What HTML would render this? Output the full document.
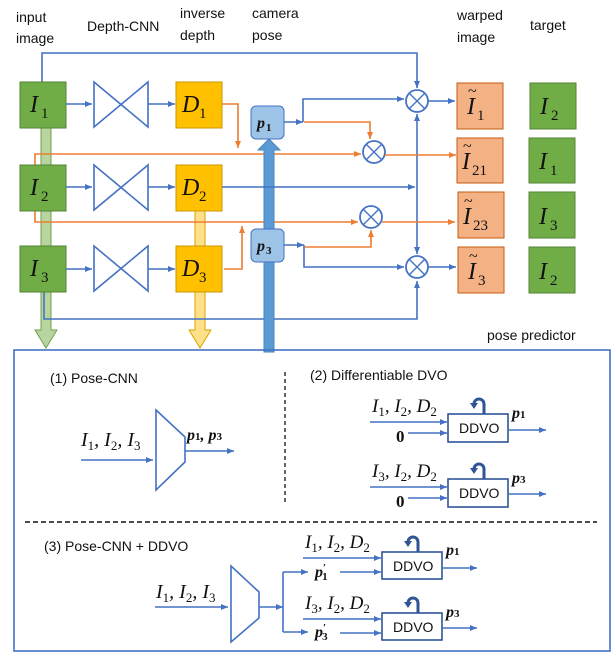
<!DOCTYPE html>
<html><head><meta charset="utf-8"><style>
html,body{margin:0;padding:0;background:#fff;width:616px;height:656px;overflow:hidden}
svg{display:block}
.t{font-family:"Liberation Sans",sans-serif;font-size:14px;fill:#111}
.m{font-family:"Liberation Serif",serif;font-style:italic;fill:#111}
.p{font-family:"Liberation Serif",serif;font-style:italic;font-weight:bold;fill:#111}
.n{font-style:normal !important}
.b{stroke:#4472c4;stroke-width:1.6;fill:none}
.o{stroke:#ed7d31;stroke-width:1.6;fill:none}
</style></head><body>
<svg width="616" height="656" viewBox="0 0 616 656" xmlns="http://www.w3.org/2000/svg">
<defs>
<marker id="ab" markerWidth="8" markerHeight="8" refX="7" refY="4" orient="auto" markerUnits="userSpaceOnUse"><path d="M0,1 L7,4 L0,7z" fill="#4472c4"/></marker>
<marker id="ao" markerWidth="8" markerHeight="8" refX="7" refY="4" orient="auto" markerUnits="userSpaceOnUse"><path d="M0,1 L7,4 L0,7z" fill="#ed7d31"/></marker>
</defs>
<text class="t" x="16" y="22">input</text><text class="t" x="16" y="43">image</text>
<text class="t" x="87" y="31">Depth-CNN</text>
<text class="t" x="180" y="18">inverse</text><text class="t" x="180" y="40">depth</text>
<text class="t" x="252" y="18">camera</text><text class="t" x="252" y="40">pose</text>
<text class="t" x="457" y="20">warped</text><text class="t" x="457" y="42">image</text>
<text class="t" x="530" y="30">target</text>

<path d="M41,128 V330 H35 L46,348 L57,330 H51 V128z" fill="#b8d5a0" stroke="#70a04a" stroke-width="1"/>
<path d="M195,211 V330 H189 L200,348 L211,330 H205 V211z" fill="#ffe08a" stroke="#d9a400" stroke-width="1"/>

<path class="b" d="M42,82 V53 H417 V88" marker-end="url(#ab)"/>
<path class="b" d="M44,292 V319 H417 V281" marker-end="url(#ab)"/>
<path class="b" d="M417,190 V114" marker-end="url(#ab)"/>
<path class="b" d="M417,190 V254" marker-end="url(#ab)"/>

<path class="o" d="M35,165 V154 H361" marker-end="url(#ao)"/>
<path class="o" d="M35,211 V222 H358" marker-end="url(#ao)"/>
<path class="o" d="M222,104 H238 V148" marker-end="url(#ao)"/>
<path class="o" d="M224,269 H242 V226" marker-end="url(#ao)"/>

<path d="M264,352 V150 H258 L269,139 L280,150 H274 V352z" fill="#5b9bd5" stroke="#4a84c0" stroke-width="1"/>

<g>
<rect x="20" y="82" width="46" height="46" fill="#70ad47" stroke="#548235"/>
<rect x="20" y="165" width="46" height="46" fill="#70ad47" stroke="#548235"/>
<rect x="20" y="246" width="46" height="46" fill="#70ad47" stroke="#548235"/>
<text class="m" x="30" y="112" font-size="24">I</text><text class="m n" x="41" y="118" font-size="15">1</text>
<text class="m" x="30" y="195" font-size="24">I</text><text class="m n" x="41" y="201" font-size="15">2</text>
<text class="m" x="30" y="276" font-size="24">I</text><text class="m n" x="41" y="282" font-size="15">3</text>
<path class="b" d="M66,104 H92" marker-end="url(#ab)"/>
<path class="b" d="M66,187 H92" marker-end="url(#ab)"/>
<path class="b" d="M66,269 H92" marker-end="url(#ab)"/>
<path class="b" d="M94,82 L148,127 V82 L94,127z"/>
<path class="b" d="M94,165 L148,210 V165 L94,210z"/>
<path class="b" d="M94,246 L148,291 V246 L94,291z"/>
<path class="b" d="M148,104 H175" marker-end="url(#ab)"/>
<path class="b" d="M148,187 H175" marker-end="url(#ab)"/>
<path class="b" d="M148,269 H175" marker-end="url(#ab)"/>
<rect x="176" y="82" width="46" height="46" fill="#ffc000" stroke="#c99700"/>
<rect x="176" y="165" width="46" height="46" fill="#ffc000" stroke="#c99700"/>
<rect x="176" y="246" width="46" height="46" fill="#ffc000" stroke="#c99700"/>
<text class="m" x="182" y="112" font-size="24">D</text><text class="m n" x="199" y="118" font-size="15">1</text>
<text class="m" x="182" y="195" font-size="24">D</text><text class="m n" x="199" y="201" font-size="15">2</text>
<text class="m" x="182" y="276" font-size="24">D</text><text class="m n" x="199" y="282" font-size="15">3</text>
</g>
<path class="b" d="M222,187 H415" marker-end="url(#ab)"/>

<rect x="251" y="106" width="33" height="33" rx="5" fill="#9dc3e6" stroke="#4472c4"/>
<rect x="251" y="229" width="33" height="33" rx="5" fill="#9dc3e6" stroke="#4472c4"/>
<text class="p" x="257" y="128" font-size="16">p</text><text class="p n" x="266" y="131" font-size="11">1</text>
<text class="p" x="257" y="251" font-size="16">p</text><text class="p n" x="266" y="254" font-size="11">3</text>
<path class="b" d="M284,122 H303" marker-end="url(#ab)"/>
<path class="b" d="M303,122 V99 H404" marker-end="url(#ab)"/>
<path class="o" d="M304,122 H370 V139" marker-end="url(#ao)"/>
<path class="b" d="M284,245 H304" marker-end="url(#ab)"/>
<path class="o" d="M305,247 H371 V230" marker-end="url(#ao)"/>
<path class="b" d="M304,245 V267 H404" marker-end="url(#ab)"/>

<g fill="#fff" stroke="#4472c4" stroke-width="1.8">
<circle cx="417" cy="101" r="11"/><circle cx="374" cy="152" r="11"/><circle cx="371" cy="217" r="11"/><circle cx="417" cy="267" r="11"/>
</g>
<g stroke="#4472c4" stroke-width="1.4">
<path d="M409,93 L425,109 M425,93 L409,109"/>
<path d="M366,144 L382,160 M382,144 L366,160"/>
<path d="M363,209 L379,225 M379,209 L363,225"/>
<path d="M409,259 L425,275 M425,259 L409,275"/>
</g>
<path class="b" d="M428,101 H455" marker-end="url(#ab)"/>
<path class="o" d="M385,155 H456" marker-end="url(#ao)"/>
<path class="o" d="M382,222 H455" marker-end="url(#ao)"/>
<path class="b" d="M428,267 H456" marker-end="url(#ab)"/>

<g fill="#f4b183" stroke="#c55a11" stroke-width="1">
<rect x="457" y="83" width="46" height="46"/><rect x="457" y="138" width="46" height="45"/>
<rect x="458" y="192" width="46" height="46"/><rect x="458" y="247" width="46" height="46"/>
</g>
<text class="m" x="467" y="114" font-size="24">I</text><text class="m n" x="468" y="96" font-size="16">~</text><text x="477" y="120" class="m n" font-size="15">1</text>
<text class="m" x="462" y="169" font-size="24">I</text><text class="m n" x="463" y="151" font-size="16">~</text><text x="472" y="175" class="m n" font-size="15">21</text>
<text class="m" x="463" y="224" font-size="24">I</text><text class="m n" x="464" y="206" font-size="16">~</text><text x="473" y="230" class="m n" font-size="15">23</text>
<text class="m" x="468" y="279" font-size="24">I</text><text class="m n" x="469" y="261" font-size="16">~</text><text x="478" y="285" class="m n" font-size="15">3</text>

<g fill="#70ad47" stroke="#548235" stroke-width="1">
<rect x="530" y="83" width="46" height="46"/><rect x="529" y="138" width="46" height="45"/>
<rect x="529" y="192" width="46" height="46"/><rect x="529" y="247" width="46" height="46"/>
</g>
<text class="m" x="540" y="114" font-size="24">I</text><text class="m n" x="551" y="120" font-size="15">2</text>
<text class="m" x="539" y="169" font-size="24">I</text><text class="m n" x="550" y="175" font-size="15">1</text>
<text class="m" x="539" y="224" font-size="24">I</text><text class="m n" x="550" y="230" font-size="15">3</text>
<text class="m" x="539" y="279" font-size="24">I</text><text class="m n" x="550" y="285" font-size="15">2</text>

<text class="t" x="487" y="340">pose predictor</text>

<rect x="14" y="350" width="596" height="301" fill="none" stroke="#4472c4" stroke-width="1.6"/>
<path d="M285,372 V505" stroke="#111" stroke-width="1.3" stroke-dasharray="4,3"/>
<path d="M25,522 H597" stroke="#111" stroke-width="1.5" stroke-dasharray="5,3"/>
<text class="t" x="50" y="383">(1) Pose-CNN</text>
<text class="t" x="310" y="380">(2) Differentiable DVO</text>
<text class="t" x="44" y="551">(3) Pose-CNN + DDVO</text>

<path class="b" d="M156,410 L185,437 V462 L156,490z"/>
<path class="b" d="M81,460 H153" marker-end="url(#ab)"/>
<path class="b" d="M185,451 H234" marker-end="url(#ab)"/>
<text class="m" x="81" y="446" font-size="20">I<tspan class="n" font-size="13" dy="4">1</tspan><tspan dy="-4">, I</tspan><tspan class="n" font-size="13" dy="4">2</tspan><tspan dy="-4">, I</tspan><tspan class="n" font-size="13" dy="4">3</tspan></text>
<text class="p" x="187" y="440" font-size="16">p<tspan class="n" font-size="11">1</tspan>, p<tspan class="n" font-size="11">3</tspan></text>

<g>
<text class="m" x="372" y="412" font-size="19">I<tspan class="n" font-size="13" dy="4">1</tspan><tspan dy="-4">, I</tspan><tspan class="n" font-size="13" dy="4">2</tspan><tspan dy="-4">, D</tspan><tspan class="n" font-size="13" dy="4">2</tspan></text>
<path class="b" d="M370,422 H447" marker-end="url(#ab)"/>
<text class="p n" x="396" y="442" font-size="17">0</text>
<path class="b" d="M408,433 H447" marker-end="url(#ab)"/>
<rect x="448" y="414" width="60" height="28" fill="#fff" stroke="#2f5597" stroke-width="1.6"/>
<text class="t" x="459" y="433" font-size="13">DDVO</text>
<path d="M484,414 V404 a5,5 0 0 0 -10,0" fill="none" stroke="#2f5597" stroke-width="3"/><path d="M470,403 L478,403 L474,409z" fill="#2f5597"/>
<path class="b" d="M508,430 H546" marker-end="url(#ab)"/>
<text class="p" x="512" y="418" font-size="16">p<tspan class="n" font-size="11">1</tspan></text>

<text class="m" x="372" y="477" font-size="19">I<tspan class="n" font-size="13" dy="4">3</tspan><tspan dy="-4">, I</tspan><tspan class="n" font-size="13" dy="4">2</tspan><tspan dy="-4">, D</tspan><tspan class="n" font-size="13" dy="4">2</tspan></text>
<path class="b" d="M370,487 H447" marker-end="url(#ab)"/>
<text class="p n" x="396" y="507" font-size="17">0</text>
<path class="b" d="M408,498 H447" marker-end="url(#ab)"/>
<rect x="448" y="479" width="60" height="28" fill="#fff" stroke="#2f5597" stroke-width="1.6"/>
<text class="t" x="459" y="498" font-size="13">DDVO</text>
<path d="M484,479 V469 a5,5 0 0 0 -10,0" fill="none" stroke="#2f5597" stroke-width="3"/><path d="M470,468 L478,468 L474,474z" fill="#2f5597"/>
<path class="b" d="M508,494 H546" marker-end="url(#ab)"/>
<text class="p" x="512" y="483" font-size="16">p<tspan class="n" font-size="11">3</tspan></text>
</g>

<path class="b" d="M231,566 L259,592 V618 L231,642z"/>
<text class="m" x="156" y="598" font-size="20">I<tspan class="n" font-size="13" dy="4">1</tspan><tspan dy="-4">, I</tspan><tspan class="n" font-size="13" dy="4">2</tspan><tspan dy="-4">, I</tspan><tspan class="n" font-size="13" dy="4">3</tspan></text>
<path class="b" d="M155,607 H228" marker-end="url(#ab)"/>
<path class="b" d="M259,607 H283" marker-end="url(#ab)"/>
<path class="b" d="M283,572 V632"/>
<path class="b" d="M283,572 H308" marker-end="url(#ab)"/>
<path class="b" d="M283,632 H308" marker-end="url(#ab)"/>

<text class="m" x="305" y="548" font-size="19">I<tspan class="n" font-size="13" dy="4">1</tspan><tspan dy="-4">, I</tspan><tspan class="n" font-size="13" dy="4">2</tspan><tspan dy="-4">, D</tspan><tspan class="n" font-size="13" dy="4">2</tspan></text>
<path class="b" d="M303,558 H381" marker-end="url(#ab)"/>
<text class="p" x="315" y="577" font-size="16">p<tspan class="n" font-size="11" dy="-6">′</tspan><tspan class="n" font-size="11" dx="-4" dy="9">1</tspan></text>
<path class="b" d="M340,572 H381" marker-end="url(#ab)"/>
<rect x="382" y="552" width="60" height="27" fill="#fff" stroke="#2f5597" stroke-width="1.6"/>
<text class="t" x="393" y="571" font-size="13">DDVO</text>
<path d="M418,552 V542 a5,5 0 0 0 -10,0" fill="none" stroke="#2f5597" stroke-width="3"/><path d="M404,541 L412,541 L408,547z" fill="#2f5597"/>
<path class="b" d="M442,568 H477" marker-end="url(#ab)"/>
<text class="p" x="446" y="555" font-size="16">p<tspan class="n" font-size="11">1</tspan></text>

<text class="m" x="305" y="609" font-size="19">I<tspan class="n" font-size="13" dy="4">3</tspan><tspan dy="-4">, I</tspan><tspan class="n" font-size="13" dy="4">2</tspan><tspan dy="-4">, D</tspan><tspan class="n" font-size="13" dy="4">2</tspan></text>
<path class="b" d="M303,619 H381" marker-end="url(#ab)"/>
<text class="p" x="315" y="637" font-size="16">p<tspan class="n" font-size="11" dy="-6">′</tspan><tspan class="n" font-size="11" dx="-4" dy="9">3</tspan></text>
<path class="b" d="M340,633 H381" marker-end="url(#ab)"/>
<rect x="382" y="613" width="60" height="27" fill="#fff" stroke="#2f5597" stroke-width="1.6"/>
<text class="t" x="393" y="632" font-size="13">DDVO</text>
<path d="M418,613 V603 a5,5 0 0 0 -10,0" fill="none" stroke="#2f5597" stroke-width="3"/><path d="M404,602 L412,602 L408,608z" fill="#2f5597"/>
<path class="b" d="M442,628 H477" marker-end="url(#ab)"/>
<text class="p" x="446" y="617" font-size="16">p<tspan class="n" font-size="11">3</tspan></text>
</svg>
</body></html>
